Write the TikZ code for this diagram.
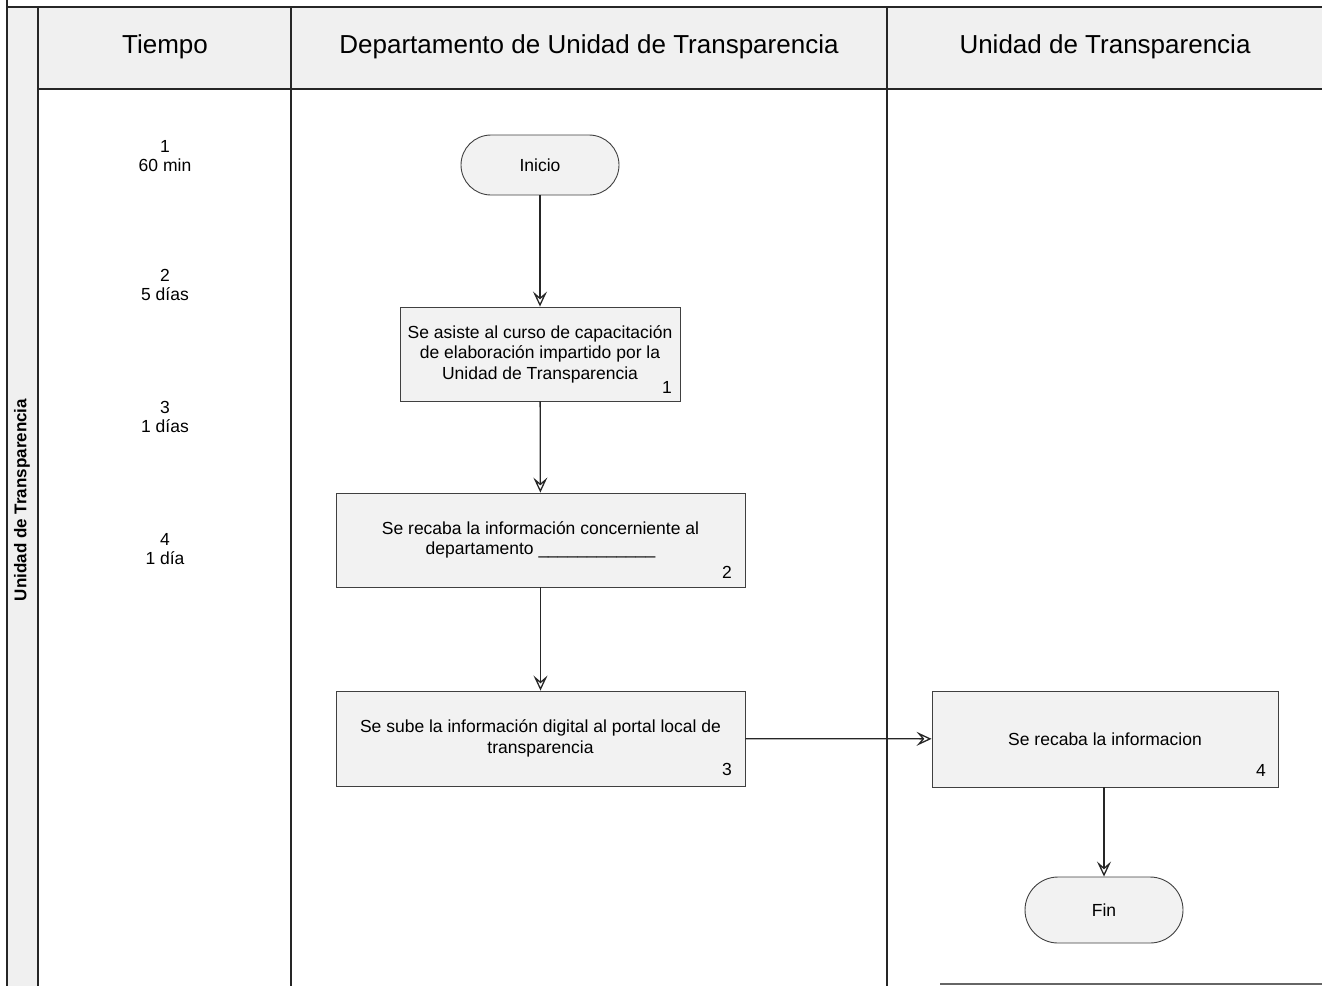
\documentclass[tikz,border=0pt]{standalone}
\usepackage{fontspec}
\setmainfont{Liberation Sans}
\usetikzlibrary{arrows.meta}
\definecolor{lanefill}{gray}{0.94}
\definecolor{shapefill}{gray}{0.95}
\begin{document}
\begin{tikzpicture}[x=1pt,y=-1pt,
  gridline/.style={line width=1.2pt,black!85},
  hdr/.style={font=\fontsize{26}{28}\selectfont},
  timelbl/.style={align=center,font=\fontsize{17.5}{19.5}\selectfont},
  procbox/.style={draw=black!75,line width=0.9pt,fill=shapefill,align=center,
    inner sep=0pt,font=\fontsize{17.5}{20.5}\selectfont},
  term/.style={draw=black!75,line width=0.9pt,fill=shapefill,rounded corners=30pt,
    inner sep=0pt,font=\fontsize{17.5}{20}\selectfont},
  numlbl/.style={inner sep=0pt,font=\fontsize{17.5}{20}\selectfont},
  flow/.style={line width=1.3pt,black!85,-{Stealth[open,length=15pt,width=14pt,inset=6pt]}}]
\useasboundingbox (0,0) rectangle (1322,986);
% fills
\fill[lanefill] (38,7) rectangle (1322,89);
\fill[lanefill] (7,7) rectangle (38,986);
% grid lines
\draw[gridline] (7,0) -- (7,986);
\draw[gridline] (7,7) -- (1322,7);
\draw[gridline] (38,7) -- (38,986);
\draw[gridline] (38,89) -- (1322,89);
\draw[gridline] (291,7) -- (291,986);
\draw[gridline] (887,7) -- (887,986);
\draw[gridline,black!60] (940,984) -- (1322,984);
% headers
\node[hdr] (hT) at (165,47) {Tiempo};
\node[hdr] (hD) at (589,47) {Departamento de Unidad de Transparencia};
\node[hdr] (hU) at (1105,47) {Unidad de Transparencia};
\node[rotate=90,font=\fontsize{17}{18}\bfseries\selectfont] (lane) at (22,500) {Unidad de Transparencia};
% times
\node[timelbl] (t1) at (165,156) {1\\60 min};
\node[timelbl] (t2) at (165,285) {2\\5 días};
\node[timelbl] (t3) at (165,417) {3\\1 días};
\node[timelbl] (t4) at (165,549) {4\\1 día};
% shapes
\node[term,minimum width=158pt,minimum height=60pt] (ini) at (540,165) {Inicio};
\node[procbox,minimum width=280pt,minimum height=94pt] (b1) at (540,354)
  {Se asiste al curso de capacitación\\de elaboración impartido por la\\Unidad de Transparencia};
\node[procbox,minimum width=409pt,minimum height=94pt] (b2) at (540.5,540)
  {Se recaba la información concerniente al\\departamento \_\_\_\_\_\_\_\_\_\_\_\_};
\node[procbox,minimum width=409pt,minimum height=95pt] (b3) at (540.5,738.5)
  {Se sube la información digital al portal local de\\transparencia};
\node[procbox,minimum width=346pt,minimum height=96pt] (b4) at (1105,739)
  {Se recaba la informacion};
\node[term,minimum width=158pt,minimum height=66pt,rounded corners=33pt] (fin) at (1104,910) {Fin};
% numbers
\node[numlbl] (n1) at (667,387) {1};
\node[numlbl] (n2) at (727,572) {2};
\node[numlbl] (n3) at (727,769) {3};
\node[numlbl] (n4) at (1261,770) {4};
% connectors
\draw[flow] (ini) -- (b1);
\draw[flow] (b1) -- (b2);
\draw[flow] (b2) -- (b3);
\draw[flow] (b3) -- (b4);
\draw[flow] (b4.south -| fin.north) -- (fin.north);
\end{tikzpicture}
\end{document}
